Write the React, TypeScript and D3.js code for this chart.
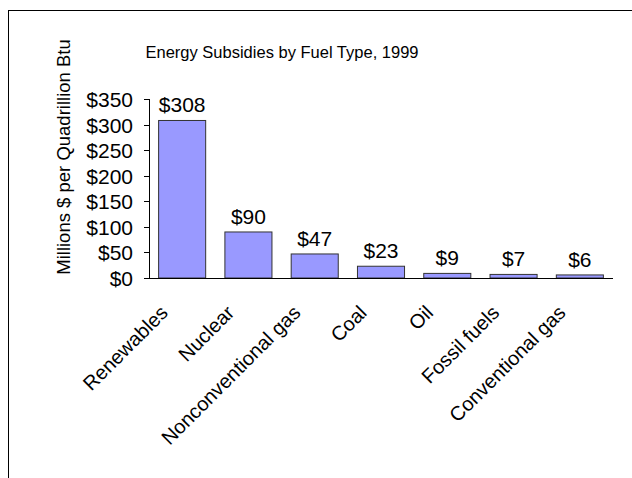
import React from "react";
import * as d3 from "d3";

const categories = ["Renewables", "Nuclear", "Nonconventional gas", "Coal", "Oil", "Fossil fuels", "Conventional gas"];
const values = [308, 90, 47, 23, 9, 7, 6];
const yTicks = [0, 50, 100, 150, 200, 250, 300, 350];
const title = "Energy Subsidies by Fuel Type, 1999";
const yLabel = "Millions $ per Quadrillion Btu";

const W = 632, H = 478;
const left = 149, right = 613, top = 99, bottom = 278;
const font = "Arial, 'Liberation Sans', sans-serif";

export default function App() {
  const x = d3.scaleBand<string>().domain(categories).range([left, right]).paddingInner(0.29).paddingOuter(0.145);
  const y = d3.scaleLinear().domain([0, 350]).range([bottom, top]);
  return (
    <svg width={W} height={H} style={{ position: "absolute", left: 0, top: 0 }} fontFamily={font}>
      <rect x={0} y={0} width={W} height={H} fill="#fff" />
      <rect x={8.5} y={10.5} width={W} height={H} fill="none" stroke="#000" strokeWidth={1} />
      <text x={282} y={58} fontSize={16.5} textAnchor="middle">{title}</text>
      <text transform={`translate(70,157) rotate(-90)`} fontSize={18.5} textAnchor="middle">{yLabel}</text>
      {categories.map((c, i) => (
        <g key={c}>
          <rect x={x(c)!} y={y(values[i])} width={x.bandwidth()} height={bottom - y(values[i])} fill="#9999FF" stroke="#333" strokeWidth={1} />
          <text x={x(c)! + x.bandwidth() / 2} y={y(values[i]) - 8} fontSize={21} textAnchor="middle">{"$" + values[i]}</text>
          <text transform={`translate(${x(c)! + x.bandwidth() / 2 - 13},${bottom + 36}) rotate(-45)`} fontSize={20} textAnchor="end">{c}</text>
        </g>
      ))}
      <line x1={left + 0.5} x2={left + 0.5} y1={top} y2={bottom} stroke="#000" />
      <line x1={left} x2={right} y1={bottom + 0.5} y2={bottom + 0.5} stroke="#000" />
      {yTicks.map(t => (
        <g key={t}>
          <line x1={left - 5} x2={left} y1={Math.round(y(t)) + 0.5} y2={Math.round(y(t)) + 0.5} stroke="#000" />
          <text x={133} y={y(t) + 8} fontSize={21} textAnchor="end">{"$" + t}</text>
        </g>
      ))}
    </svg>
  );
}
